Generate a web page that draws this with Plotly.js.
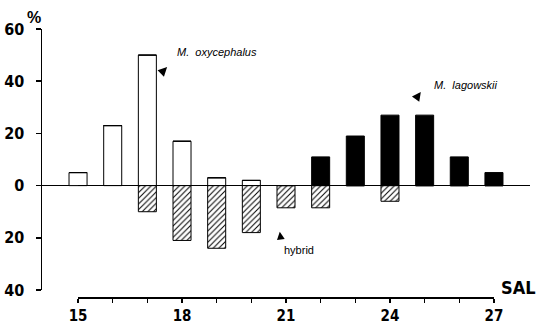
<!DOCTYPE html>
<html>
<head>
<meta charset="utf-8">
<script src="https://cdn.plot.ly/plotly-3.0.1.min.js"></script>
<style>html,body{margin:0;padding:0;background:#fff}#chart{width:538px;height:326px}</style>
</head>
<body>
<div id="chart"></div>
<script>
// Data (salinity class, % of individuals)
const sal = [15, 16, 17, 18, 19, 20, 21, 22, 23, 24, 25, 26, 27];
const oxycephalus = [5, 23, 50, 17, 3, 2, 0, 0, 0, 0, 0, 0, 0];
const hybrid = [0, 0, -10, -21, -24, -18, -8.5, -8.5, 0, -6, 0, 0, 0];
const lagowskii = [0, 0, 0, 0, 0, 0, 0, 11, 19, 27, 27, 11, 5];
const yTickVals = [60, 40, 20, 0, -20, -40];
const yTickText = ['60', '40', '20', '0', '20', '40'];
const xTickVals = [15, 16, 17, 18, 19, 20, 21, 22, 23, 24, 25, 26, 27];
const xTickText = ['15', '', '', '18', '', '', '21', '', '', '24', '', '', '27'];

const narrow = '"Liberation Sans Narrow", "DejaVu Sans Condensed", sans-serif';
const numFont = {family: narrow, size: 16, color: '#000', weight: 'bold'};
const xNumFont = {family: narrow, size: 15, color: '#000', weight: 'bold'};
const lblFont = {family: 'Liberation Sans, Arial, sans-serif', size: 11, color: '#000'};

const xr = [13.96, 28.04];
const dom2 = [(15 - xr[0]) / (xr[1] - xr[0]), (27 - xr[0]) / (xr[1] - xr[0])];

const traces = [
  {type: 'bar', x: sal, y: oxycephalus, width: 0.52, name: 'M. oxycephalus',
   marker: {color: '#fff', line: {color: '#000', width: 1}}},
  {type: 'bar', x: sal, y: hybrid, width: 0.52, name: 'hybrid',
   marker: {color: '#fff', line: {color: '#000', width: 1},
            pattern: {shape: '/', fgcolor: '#000', bgcolor: '#fff', size: 4, solidity: 0.25}}},
  {type: 'bar', x: sal, y: lagowskii, width: 0.52, name: 'M. lagowskii',
   marker: {color: '#000', line: {color: '#000', width: 1}}},
  {type: 'scatter', mode: 'markers', x: [15, 27], y: [null, null], xaxis: 'x2', yaxis: 'y', showlegend: false, hoverinfo: 'skip'}
];

const layout = {
  width: 538, height: 326,
  margin: {l: 42, r: 8, t: 29, b: 29},
  paper_bgcolor: '#fff', plot_bgcolor: 'rgba(0,0,0,0)',
  showlegend: false,
  barmode: 'relative',
  xaxis: {range: xr, domain: [0, 1], showline: false, showticklabels: false, ticks: '', showgrid: false, zeroline: false, fixedrange: true},
  xaxis2: {range: [15, 27], domain: dom2, anchor: 'free', position: 0, side: 'bottom',
           showline: true, linecolor: '#000', linewidth: 1.5, ticks: 'outside', ticklen: 4, tickwidth: 1.5, tickcolor: '#000',
           tickvals: xTickVals, ticktext: xTickText, tickfont: xNumFont, showgrid: false, zeroline: false},
  yaxis: {range: [-40, 60], domain: [0.026, 1], showline: true, linecolor: '#000', linewidth: 1.5,
          ticks: 'outside', ticklen: 5, tickwidth: 1.5, tickcolor: '#000',
          tickvals: yTickVals, ticktext: yTickText, tickfont: numFont, ticklabelstandoff: 8,
          showgrid: false, zeroline: true, zerolinecolor: '#000', zerolinewidth: 1.5},
  annotations: [
    {xref: 'paper', yref: 'paper', x: -0.017, y: 1.0, yshift: 12, xanchor: 'center', yanchor: 'middle', text: '%', showarrow: false,
     font: {family: 'Liberation Sans, Arial, sans-serif', size: 16, color: '#000', weight: 'bold'}},
    {xref: 'paper', yref: 'paper', x: 1.0164, y: 0, yshift: 10, xanchor: 'right', yanchor: 'middle', text: 'SAL', showarrow: false,
     font: {family: narrow, size: 18, color: '#000', weight: 'bold'}},
    {xref: 'x', yref: 'y', x: 17.8, y: 51, xanchor: 'left', text: '<i>M.  oxycephalus</i>', showarrow: false, font: lblFont},
    {xref: 'x', yref: 'y', x: 25.2, y: 38.5, xanchor: 'left', text: '<i>M.  lagowskii</i>', showarrow: false, font: lblFont},
    {xref: 'x', yref: 'y', x: 20.88, y: -24.5, xanchor: 'left', text: 'hybrid', showarrow: false, font: lblFont},
    {xref: 'x', yref: 'y', x: 17.57, y: 45.4, ax: -6, ay: 6, text: '', showarrow: true, arrowhead: 2, arrowsize: 1.5, arrowwidth: 1.2, arrowcolor: '#000'},
    {xref: 'x', yref: 'y', x: 24.89, y: 35.9, ax: -5, ay: 7, text: '', showarrow: true, arrowhead: 2, arrowsize: 1.5, arrowwidth: 1.2, arrowcolor: '#000'},
    {xref: 'x', yref: 'y', x: 20.82, y: -17.7, ax: 1, ay: 7, text: '', showarrow: true, arrowhead: 2, arrowsize: 1.3, arrowwidth: 1.2, arrowcolor: '#000'}
  ]
};

Plotly.newPlot('chart', traces, layout, {displayModeBar: false, staticPlot: true});
</script>
</body>
</html>
